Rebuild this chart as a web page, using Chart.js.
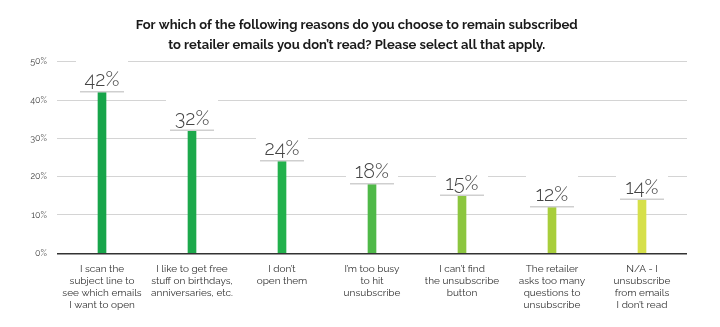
<!DOCTYPE html>
<html>
<head>
<meta charset="utf-8">
<script src="https://cdn.jsdelivr.net/npm/chart.js@4.4.1/dist/chart.umd.min.js"></script>
<style>
  html, body { margin: 0; padding: 0; background: #fff; }
  #wrap { width: 720px; height: 327px; position: relative; }
</style>
</head>
<body>
<div id="wrap"><canvas id="c" width="720" height="327"></canvas></div>
<script>
// ---- data ----
const titleLines = [
  "For which of the following reasons do you choose to remain subscribed",
  "to retailer emails you don\u2019t read? Please select all that apply."
];
const categories = [
  ["I scan the", "subject line to", "see which emails", "I want to open"],
  ["I like to get free", "stuff on birthdays,", "anniversaries, etc."],
  ["I don\u2019t", "open them"],
  ["I\u2019m too busy", "to hit", "unsubscribe"],
  ["I can\u2019t find", "the unsubscribe", "button"],
  ["The retailer", "asks too many", "questions to", "unsubscribe"],
  ["N/A - I", "unsubscribe", "from emails", "I don\u2019t read"]
];
const values = [42, 32, 24, 18, 15, 12, 14];
const yTicks = [0, 10, 20, 30, 40, 50];

// ---- styles ----
const barColors = ["#17a54a", "#1ca94b", "#22b14c", "#4fb948", "#8cc63f", "#a8ce3b", "#d6e04a"];
const FONT = "Raleway, Lato, 'Open Sans', sans-serif";

const valueLabels = {
  id: "valueLabels",
  afterDatasetsDraw(chart) {
    const ctx = chart.ctx;
    const meta = chart.getDatasetMeta(0);
    ctx.save();
    meta.data.forEach((bar, i) => {
      const x = bar.x, y = bar.y;
      ctx.fillStyle = "#ffffff";
      ctx.fillRect(x - 26, y - 32, 52, 31);
      ctx.strokeStyle = "#cfcfcf";
      ctx.lineWidth = 1.5;
      ctx.beginPath();
      ctx.moveTo(x - 22, y - 0.5);
      ctx.lineTo(x + 22, y - 0.5);
      ctx.stroke();
      ctx.fillStyle = "#444444";
      ctx.font = "300 20px " + FONT;
      ctx.textAlign = "center";
      ctx.textBaseline = "alphabetic";
      ctx.fillText(values[i] + "%", x, y - 6);
    });
    ctx.restore();
  }
};

new Chart(document.getElementById("c"), {
  type: "bar",
  data: {
    labels: categories,
    datasets: [{
      data: values,
      backgroundColor: barColors,
      barThickness: 8,
      borderWidth: 0
    }]
  },
  options: {
    responsive: false,
    animation: false,
    layout: { padding: { left: 26.4, right: 33, top: 0, bottom: 0 } },
    plugins: {
      legend: { display: false },
      tooltip: { enabled: false },
      title: {
        display: true,
        text: titleLines,
        color: "#1a1a1a",
        font: { family: FONT, size: 13, weight: "bold", lineHeight: 1.5 },
        padding: { top: 15.5, bottom: 7.2 }
      }
    },
    scales: {
      x: {
        grid: { display: false, drawTicks: false },
        border: { display: false },
        ticks: {
          color: "#333333",
          font: { family: FONT, size: 10, lineHeight: 1.2 },
          padding: 10,
          maxRotation: 0,
          autoSkip: false
        },
        afterFit(scale) { scale.height = 73.7; }
      },
      y: {
        min: 0,
        max: 50,
        afterBuildTicks(scale) { scale.ticks = yTicks.map(v => ({ value: v })); },
        grid: {
          drawTicks: false,
          color: (c) => c.tick && c.tick.value === 0 ? "#333333" : "#d4d4d4",
          lineWidth: (c) => c.tick && c.tick.value === 0 ? 1.5 : 1
        },
        border: { display: false },
        ticks: {
          color: "#444444",
          font: { family: FONT, size: 9 },
          padding: 10,
          callback: (v) => v + "%"
        },
        afterFit(scale) { scale.width = 30.6; }
      }
    }
  },
  plugins: [valueLabels]
});
</script>
</body>
</html>
